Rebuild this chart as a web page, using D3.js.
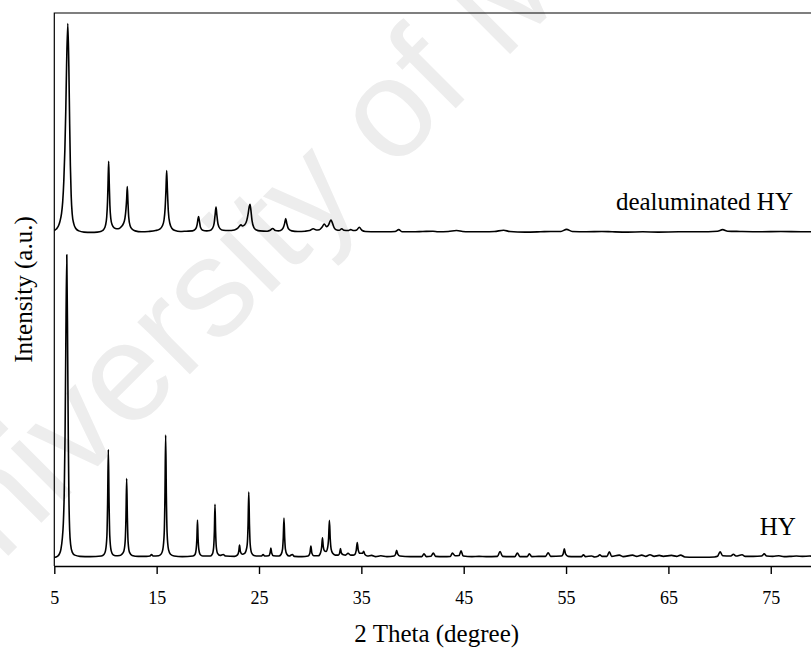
<!DOCTYPE html>
<html>
<head>
<meta charset="utf-8">
<script src="https://cdn.jsdelivr.net/npm/d3@7/dist/d3.min.js"></script>
<style>
  html, body { margin: 0; padding: 0; background: #fff; }
  svg { display: block; }
</style>
</head>
<body>
<svg id="chart" width="811" height="648"></svg>
<script>
// XRD patterns: 2θ (degree) vs intensity (a.u.), HY zeolite before and after dealumination.
// Each pattern is a list of [2θ, intensity] points; intensities in a.u. (HY main reflection = 100).

const xTicks = [5, 15, 25, 35, 45, 55, 65, 75];
const seriesNames = ["HY", "dealuminated HY"];
const dealOffset = 107.5; // vertical stacking offset for the upper pattern

const hyPattern = [
  [5.00,-0.2],[5.30,0.2],[5.50,1.0],[5.65,2.6],[5.78,6],[5.88,11],[5.97,21],[6.05,40],[6.12,68],[6.22,100],
  [6.31,66],[6.37,38],[6.43,19],[6.50,9],[6.60,4],[6.75,1.6],[7.00,0.6],[7.50,0.2],[8.50,0.1],
  [9.60,0.3],[9.85,0.8],[10.00,2],[10.14,7],[10.21,18],[10.28,35.5],[10.35,18],[10.42,7],[10.56,2],[10.75,0.7],
  [11.00,0.4],[11.40,0.5],
  [11.60,0.9],[11.80,2],[11.93,5.5],[12.00,13],[12.07,25.9],[12.14,13],[12.21,5],[12.35,1.5],[12.60,0.5],[13.20,0.2],[14.00,0.2],
  [14.35,0.3],[14.50,0.8],[14.65,0.3],
  [15.20,0.4],[15.45,1.0],[15.60,2.4],[15.74,8],[15.81,20],[15.88,40.3],[15.95,20],[16.02,8],[16.16,2.4],[16.35,0.9],[16.70,0.3],[17.50,0.1],
  [18.55,0.3],[18.75,0.8],[18.86,2.5],[18.93,6],[18.99,12.2],[19.05,6],[19.12,2.5],[19.25,0.8],[19.50,0.3],
  [20.25,0.3],[20.45,1],[20.57,3.3],[20.64,8.5],[20.70,17.4],[20.76,8.5],[20.83,3.3],[20.95,1.2],[21.20,0.5],
  [21.50,0.8],[21.75,0.3],
  [22.60,0.2],[22.90,0.7],[23.02,1.8],[23.10,3.9],[23.18,1.8],[23.35,0.9],[23.60,1.2],[23.80,3],[23.87,5],[23.93,10.5],[24.00,21.5],
  [24.07,10.5],[24.14,4.2],[24.28,1.3],[24.50,0.5],[24.90,0.3],
  [25.25,0.3],[25.40,0.8],[25.55,0.3],
  [25.95,0.4],[26.08,1.3],[26.16,2.9],[26.24,1.3],[26.40,0.4],
  [26.95,0.3],[27.15,0.8],[27.30,2.6],[27.37,6.3],[27.44,12.9],[27.51,6.3],[27.58,2.6],[27.72,0.9],[27.95,0.3],
  [28.26,0.8],[28.45,0.2],[29.20,0.1],
  [29.80,0.3],[29.97,1.2],[30.07,3.6],[30.17,1.2],[30.35,0.4],
  [30.80,0.4],[31.02,1.5],[31.12,3.2],[31.20,6.3],[31.28,3.4],[31.40,2],[31.55,1.8],[31.70,3],[31.80,6.2],[31.88,12.1],
  [31.96,6],[32.05,2.6],[32.20,1.2],[32.45,0.6],
  [32.75,0.6],[32.88,1.3],[32.96,2.8],[33.05,1.3],[33.25,0.7],
  [33.45,0.6],[33.70,1.2],[33.95,0.6],[34.20,0.6],
  [34.35,0.8],[34.50,2.2],[34.60,4.8],[34.70,2.2],[34.85,1.2],
  [35.12,1.2],[35.22,1.9],[35.35,0.8],[35.60,0.3],
  [36.00,0.5],[36.40,0.1],[36.90,0.4],[37.50,0.1],
  [38.20,0.3],[38.35,1.0],[38.45,2.2],[38.55,1.0],[38.75,0.3],[39.80,0.1],
  [40.90,0.1],[41.12,1.0],[41.35,0.1],
  [41.80,0.2],[42.03,1.3],[42.25,0.2],[43.00,0.1],
  [43.70,0.2],[43.90,1.3],[44.15,0.4],
  [44.55,0.5],[44.74,2.0],[44.95,0.3],
  [45.80,0.1],[46.50,0.2],[47.20,0.1],
  [48.30,0.2],[48.55,1.8],[48.80,0.2],[49.50,0.1],
  [50.00,0.1],[50.24,1.3],[50.50,0.1],
  [51.20,0.1],[51.41,1.0],[51.65,0.1],[52.30,0.2],
  [53.00,0.2],[53.25,1.4],[53.50,0.2],
  [54.55,0.3],[54.72,1.0],[54.83,2.7],[54.95,1.0],[55.20,0.2],[55.80,0.1],
  [56.50,0.1],[56.70,0.7],[56.90,0.1],[57.50,0.3],[57.80,0.0],
  [58.10,0.2],[58.30,0.7],[58.50,0.2],
  [59.00,0.2],[59.23,1.7],[59.45,0.2],
  [60.20,0.6],[60.60,0.1],[61.50,0.6],[61.90,0.2],[62.40,0.6],[62.80,0.2],[63.20,0.7],[63.60,0.2],
  [64.10,0.5],[64.50,0.2],[65.30,0.5],[65.80,0.2],[66.20,0.6],[66.60,0.0],[67.50,-0.1],[68.50,-0.1],[69.50,0.0],
  [69.80,0.2],[70.05,1.7],[70.30,0.4],
  [71.10,0.3],[71.35,0.9],[71.60,0.3],
  [72.20,0.7],[72.50,0.2],[73.30,0.2],
  [74.10,0.3],[74.36,1.0],[74.60,0.3],
  [75.20,0.2],[75.80,0.4],[76.30,0.1],[77.00,0.2],[77.50,0.3],[78.10,0.2],[78.80,0.3],[79.30,0.2],[80.00,0.2]
];

const dealPattern = [
  [5.00,0.5],[5.20,1.0],[5.40,2.0],[5.55,3.5],[5.70,6],[5.82,10],[5.93,17],[6.03,27],[6.12,40],[6.20,55],[6.32,69],
  [6.42,55],[6.50,36],[6.57,22],[6.65,12],[6.75,6],[6.90,2.8],[7.10,1.2],[7.40,0.4],[7.90,0.0],[8.60,-0.1],[9.20,0.0],
  [9.60,0.3],[9.85,1],[10.00,2.2],[10.12,5],[10.20,10],[10.25,16],[10.31,23.4],[10.37,16],[10.43,9],[10.52,4.5],
  [10.65,2.4],[10.85,1.4],[11.10,1.1],[11.35,1.2],[11.55,1.8],
  [11.75,2.8],[11.90,4.5],[12.00,7.5],[12.07,11],[12.13,15.1],[12.19,10.5],[12.27,5],[12.40,2.2],[12.60,1],[12.90,0.4],
  [13.50,0.1],[14.20,0.2],
  [14.90,0.5],[15.30,1],[15.55,2],[15.72,4],[15.83,8],[15.91,14],[15.98,20.4],[16.05,14],[16.14,7],[16.28,3],[16.50,1.2],
  [16.80,0.5],[17.30,0.2],[17.90,0.3],
  [18.50,0.4],[18.80,1.0],[18.95,2.4],[19.05,4.5],[19.10,5.1],[19.17,3.8],[19.28,1.6],[19.50,0.6],[19.90,0.4],
  [20.20,0.5],[20.45,1.2],[20.62,3],[20.72,6],[20.80,8.3],[20.88,5.8],[21.00,2.6],[21.20,1.1],[21.50,0.6],[22.00,0.5],
  [22.60,0.7],[22.90,1.2],[23.10,2.0],[23.24,2.4],[23.40,2.0],[23.60,2.4],[23.80,3.8],[23.95,6.3],[24.05,8.5],[24.12,9.2],
  [24.20,7.5],[24.32,3.8],[24.50,1.5],[24.75,0.7],[25.10,0.4],
  [25.80,0.3],[26.10,0.6],[26.34,1.2],[26.60,0.5],[26.90,0.4],
  [27.10,0.5],[27.35,1.3],[27.50,2.8],[27.61,4.5],[27.72,2.8],[27.88,1.1],[28.20,0.4],[28.80,0.2],[29.50,0.3],
  [29.95,0.5],[30.30,1.1],[30.60,0.7],
  [30.90,0.8],[31.15,1.6],[31.38,2.7],[31.60,1.8],[31.80,2.4],[31.95,3.6],[32.04,4.0],[32.15,3.2],[32.35,1.4],[32.60,0.7],
  [32.85,0.6],[33.08,1.1],[33.30,0.6],
  [33.70,0.5],[33.96,0.8],[34.25,0.5],
  [34.55,0.7],[34.80,1.6],[35.05,0.6],[35.40,0.2],
  [36.50,0.1],[37.50,0.1],[38.30,0.2],[38.65,0.8],[39.00,0.1],[40.00,0.1],[41.00,0.2],[42.00,0.3],[42.50,0.1],
  [43.50,0.2],[44.30,0.5],[44.90,0.2],[45.50,0.1],[47.00,0.1],[48.00,0.2],[48.90,0.6],[49.50,0.2],[51.00,0.0],
  [52.50,0.1],[53.50,0.2],[54.50,0.2],[55.05,0.9],[55.60,0.2],[57.00,0.1],[58.50,0.2],[59.50,0.1],[61.00,0.0],
  [62.50,0.1],[64.00,0.0],[66.00,0.1],[68.00,0.1],[69.80,0.3],[70.30,0.8],[70.80,0.3],[72.00,0.2],[74.00,0.1],
  [76.00,0.2],[78.00,0.1],[80.00,0.1]
];

// Label anchors in data units: [2θ of text end, intensity of text baseline]
const labelPos = { "HY": [77.45, 7.3], "dealuminated HY": [77.17, 114.8] };

const svg = d3.select("#chart");
const W = 811, H = 648;
const margin = { left: 54.3, top: 13, bottom: 82 };

const x = d3.scaleLinear().domain([5, 80]).range([margin.left, margin.left + 75 * 10.235]);
const y = d3.scaleLinear().domain([-3, 180]).range([H - margin.bottom, margin.top]);

svg.append("rect").attr("width", W).attr("height", H).attr("fill", "#fff");

// faint diagonal watermark behind the plot
svg.append("text")
  .attr("transform", "translate(-70,634) rotate(-45)")
  .attr("font-family", "'Liberation Sans', Arial, sans-serif")
  .attr("font-size", 140)
  .attr("fill", "#ededed")
  .text("University of Malaya");

const serif = "'Liberation Serif', 'Times New Roman', Times, serif";

// frame (top and left edges; right edge lies beyond the visible area)
const x0 = x.range()[0], x1 = x.range()[1];
svg.append("path")
  .attr("d", `M${x0},${y(-3)}V${y(180)}H${x1}V${y(-3)}`)
  .attr("fill", "none").attr("stroke", "#000").attr("stroke-width", 1.2);

// bottom axis
const xAxis = d3.axisBottom(x).tickValues(xTicks).tickSize(8).tickSizeOuter(0).tickPadding(17);
const gx = svg.append("g").attr("transform", `translate(0,${y(-3)})`).call(xAxis);
gx.select(".domain").attr("stroke", "#000").attr("stroke-width", 1.4);
gx.selectAll(".tick line").attr("stroke", "#000").attr("stroke-width", 1.4);
gx.selectAll(".tick text").attr("font-family", serif).attr("font-size", 18).attr("fill", "#000");

// traces
const line = offset => d3.line()
  .x(d => x(d[0]))
  .y(d => y(d[1] + offset))
  .curve(d3.curveMonotoneX);

svg.append("path").datum(hyPattern)
  .attr("d", line(0))
  .attr("fill", "none").attr("stroke", "#000").attr("stroke-width", 1.6).attr("stroke-linejoin", "round");

svg.append("path").datum(dealPattern)
  .attr("d", line(dealOffset))
  .attr("fill", "none").attr("stroke", "#000").attr("stroke-width", 1.6).attr("stroke-linejoin", "round");

// series labels
seriesNames.forEach(name => {
  const p = labelPos[name];
  svg.append("text")
    .attr("x", x(p[0])).attr("y", y(p[1]))
    .attr("text-anchor", "end")
    .attr("font-family", serif).attr("font-size", 25).attr("fill", "#000")
    .text(name);
});

// axis titles
svg.append("text")
  .attr("x", 436.7).attr("y", 641.7)
  .attr("text-anchor", "middle")
  .attr("font-family", serif).attr("font-size", 25).attr("fill", "#000")
  .text("2 Theta (degree)");

svg.append("text")
  .attr("transform", `translate(31.5,${(y(-3) + y(180)) / 2}) rotate(-90)`)
  .attr("text-anchor", "middle")
  .attr("font-family", serif).attr("font-size", 25).attr("fill", "#000")
  .text("Intensity (a.u.)");
</script>
</body>
</html>
